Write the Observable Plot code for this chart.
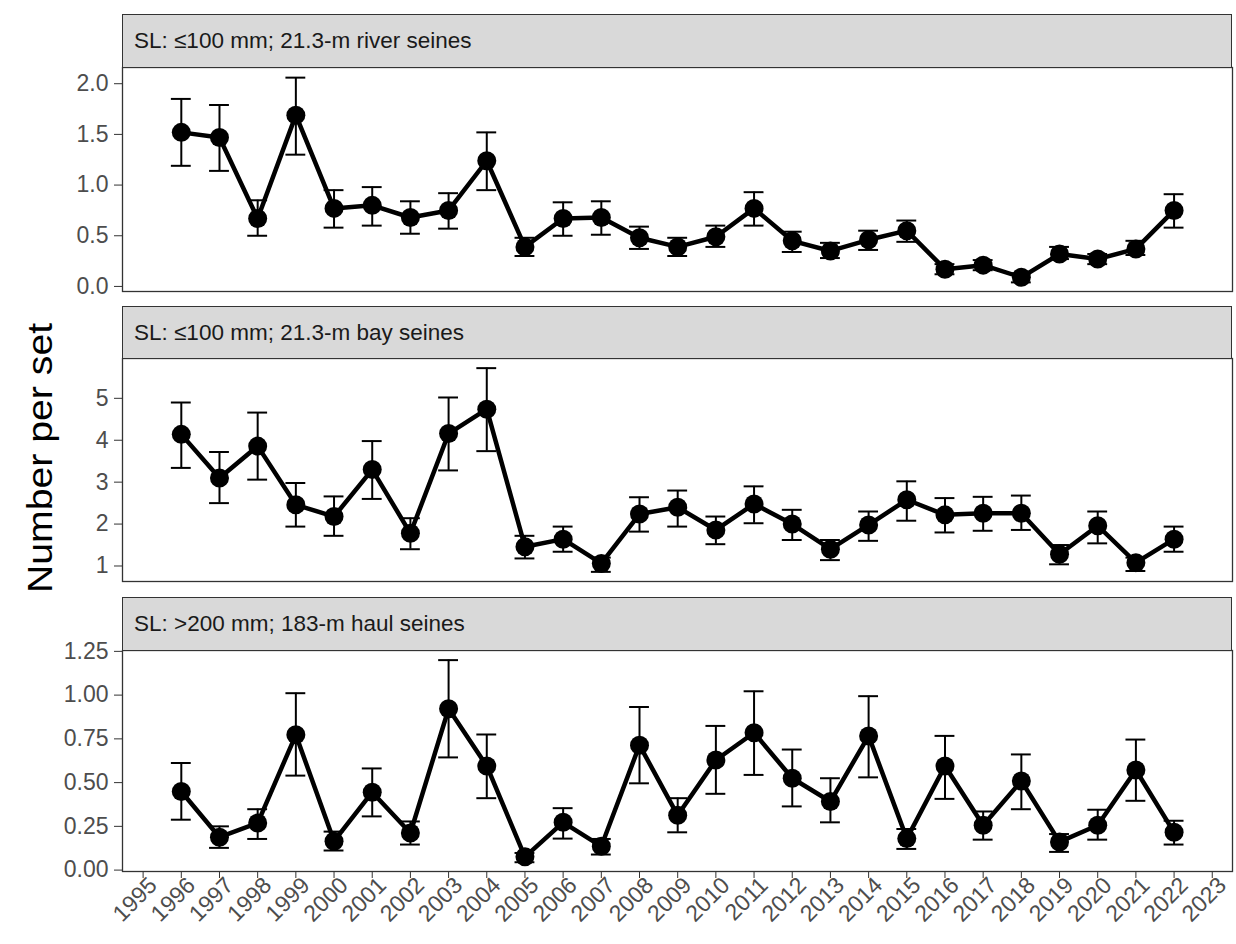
<!DOCTYPE html>
<html>
<head>
<meta charset="utf-8">
<script src="https://cdn.jsdelivr.net/npm/d3@7"></script>
<script src="https://cdn.jsdelivr.net/npm/@observablehq/plot@0.6"></script>
<style>
  html, body { margin: 0; padding: 0; background: #fff; }
  #root { position: relative; width: 1236px; height: 944px; background: #fff; overflow: hidden;
          font-family: 'Liberation Sans', Arial, Helvetica, sans-serif; }
  .strip { position: absolute; left: 122px; width: 1110px; box-sizing: border-box;
           background: #d9d9d9; border: 1.3px solid #333; color: #1a1a1a; font-size: 22.5px;
           display: flex; align-items: center; padding-left: 11px; }
  .panel { position: absolute; left: 0; }
  #ylab { position: absolute; left: 40px; top: 458px; transform: translate(-50%, -50%) rotate(-90deg) scaleX(1.12);
          font-size: 35px; color: #000; white-space: nowrap; }
</style>
</head>
<body>
<div id="root"></div>
<script>
// ---- data ----
const years = [1996,1997,1998,1999,2000,2001,2002,2003,2004,2005,2006,2007,2008,2009,2010,2011,2012,2013,2014,2015,2016,2017,2018,2019,2020,2021,2022];
const xTicks = [1995,1996,1997,1998,1999,2000,2001,2002,2003,2004,2005,2006,2007,2008,2009,2010,2011,2012,2013,2014,2015,2016,2017,2018,2019,2020,2021,2022,2023];

const panelTitles = ["SL: \u2264100 mm; 21.3-m river seines", "SL: \u2264100 mm; 21.3-m bay seines", "SL: >200 mm; 183-m haul seines"];

const riverMean  = [1.52,1.47,0.67,1.69,0.77,0.80,0.68,0.75,1.24,0.39,0.67,0.68,0.48,0.39,0.49,0.77,0.45,0.35,0.46,0.55,0.17,0.21,0.09,0.32,0.27,0.37,0.75];
const riverUpper = [1.85,1.79,0.85,2.06,0.95,0.98,0.84,0.92,1.52,0.48,0.83,0.84,0.59,0.48,0.60,0.93,0.54,0.43,0.55,0.65,0.22,0.26,0.13,0.39,0.32,0.45,0.91];
const riverLower = [1.19,1.14,0.50,1.30,0.58,0.60,0.52,0.57,0.95,0.30,0.50,0.51,0.37,0.30,0.39,0.60,0.34,0.28,0.36,0.44,0.12,0.16,0.04,0.27,0.22,0.31,0.58];

const bayMean  = [4.14,3.10,3.86,2.46,2.18,3.30,1.78,4.16,4.74,1.46,1.64,1.06,2.24,2.40,1.86,2.48,2.00,1.40,1.98,2.58,2.22,2.26,2.26,1.28,1.96,1.08,1.64];
const bayUpper = [4.90,3.72,4.66,2.98,2.66,3.98,2.14,5.02,5.72,1.72,1.94,1.20,2.64,2.80,2.18,2.90,2.34,1.62,2.30,3.02,2.62,2.65,2.68,1.50,2.30,1.20,1.94];
const bayLower = [3.34,2.50,3.06,1.94,1.72,2.60,1.40,3.28,3.74,1.18,1.34,0.86,1.82,1.94,1.52,2.02,1.62,1.14,1.60,2.08,1.80,1.84,1.86,1.04,1.54,0.88,1.34];

const haulMean  = [0.449,0.188,0.269,0.773,0.165,0.445,0.212,0.922,0.595,0.076,0.273,0.136,0.714,0.313,0.629,0.785,0.525,0.392,0.767,0.180,0.595,0.256,0.509,0.161,0.256,0.572,0.216];
const haulUpper = [0.612,0.250,0.348,1.011,0.220,0.581,0.278,1.200,0.775,0.098,0.354,0.178,0.932,0.411,0.824,1.022,0.689,0.525,0.994,0.235,0.767,0.335,0.661,0.206,0.345,0.746,0.282];
const haulLower = [0.288,0.127,0.178,0.540,0.112,0.307,0.146,0.644,0.411,0.045,0.180,0.089,0.496,0.216,0.436,0.544,0.364,0.273,0.530,0.121,0.407,0.174,0.348,0.104,0.174,0.396,0.146];

const riverTicks = [0, 0.5, 1.0, 1.5, 2.0];
const bayTicks = [1, 2, 3, 4, 5];
const haulTicks = [0, 0.25, 0.5, 0.75, 1.0, 1.25];

// ---- build ----
const font = "'Liberation Sans', Arial, Helvetica, sans-serif";
const table = (m, u, l) => years.map((y, i) => ({year: y, mean: m[i], upper: u[i], lower: l[i]}));

const root = document.getElementById("root");

function panel({data, yDomain, yTicks, yFmt, showX, height, marginBottom, top}) {
  const marks = [
    Plot.axisY({ticks: yTicks, tickFormat: yFmt, tickSize: 8, tickPadding: 6, label: null, stroke: "#333", fill: "#4d4d4d", fontSize: 23}),
    Plot.ruleX(data, {x: "year", y1: "lower", y2: "upper", stroke: "black", strokeWidth: 2}),
    Plot.ruleY(data, {y: "upper", x1: d => d.year - 0.26, x2: d => d.year + 0.26, stroke: "black", strokeWidth: 2}),
    Plot.ruleY(data, {y: "lower", x1: d => d.year - 0.26, x2: d => d.year + 0.26, stroke: "black", strokeWidth: 2}),
    Plot.line(data, {x: "year", y: "mean", stroke: "black", strokeWidth: 4.5}),
    Plot.dot(data, {x: "year", y: "mean", r: 9.5, fill: "black", stroke: "none"}),
    Plot.frame({stroke: "#333", strokeWidth: 1.3})
  ];
  if (showX) {
    marks.push(Plot.axisX({ticks: xTicks, tickFormat: () => "", tickSize: 7, label: null, stroke: "#333"}));
    marks.push(Plot.axisX({ticks: xTicks, tickFormat: d => String(d), tickSize: 0, tickPadding: 10, tickRotate: -45, label: null, fill: "#4d4d4d", fontSize: 23, dx: 10}));
  }
  const p = Plot.plot({
    width: 1236, height, marginLeft: 122, marginRight: 4, marginTop: 0, marginBottom,
    style: {fontFamily: font, fontSize: "22px", color: "#4d4d4d", background: "white", overflow: "visible"},
    x: {domain: [1994.46, 2023.53], axis: showX ? undefined : null},
    y: {domain: yDomain},
    marks
  });
  const wrap = document.createElement("div");
  wrap.className = "panel";
  wrap.style.top = top + "px";
  wrap.appendChild(p);
  root.appendChild(wrap);
}

function strip(text, top, h) {
  const d = document.createElement("div");
  d.className = "strip";
  d.style.top = top + "px";
  d.style.height = h + "px";
  d.textContent = text;
  root.appendChild(d);
}

panel({data: table(riverMean, riverUpper, riverLower), yDomain: [-0.05, 2.16], yTicks: riverTicks, yFmt: d3.format(".1f"), showX: false, height: 224, marginBottom: 0, top: 67});
panel({data: table(bayMean, bayUpper, bayLower), yDomain: [0.63, 5.95], yTicks: bayTicks, yFmt: d3.format("d"), showX: false, height: 223, marginBottom: 0, top: 358});
panel({data: table(haulMean, haulUpper, haulLower), yDomain: [-0.008, 1.255], yTicks: haulTicks, yFmt: d3.format(".2f"), showX: true, height: 294, marginBottom: 73, top: 650});

strip(panelTitles[0], 14, 54);
strip(panelTitles[1], 306, 53);
strip(panelTitles[2], 597, 54);

const yl = document.createElement("div");
yl.id = "ylab";
yl.textContent = "Number per set";
root.appendChild(yl);
</script>
</body>
</html>
